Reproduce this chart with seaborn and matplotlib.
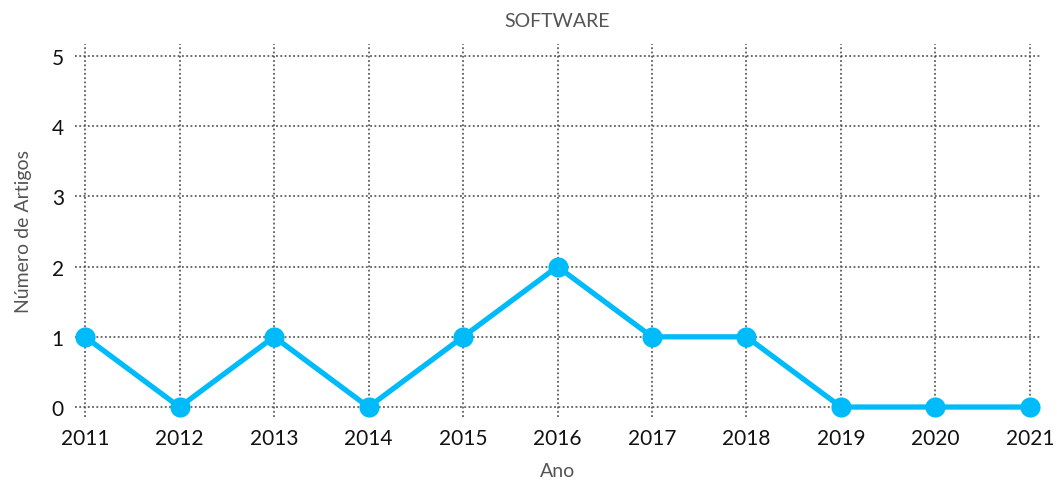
import matplotlib
matplotlib.use("Agg")
import matplotlib.pyplot as plt
import seaborn as sns
import pandas as pd

anos = [2011, 2012, 2013, 2014, 2015, 2016, 2017, 2018, 2019, 2020, 2021]
artigos = [1, 0, 1, 0, 1, 2, 1, 1, 0, 0, 0]
yticks = [0, 1, 2, 3, 4, 5]

sns.set_theme(style="white")
plt.rcParams['font.family'] = ['Lato', 'DejaVu Sans']

df = pd.DataFrame({"Ano": anos, "Artigos": artigos})

fig = plt.figure(figsize=(10.57, 4.85), dpi=100)
ax = fig.add_axes([75/1057, (485-418)/485, (1040-75)/1057, (418-45)/485])

sns.lineplot(data=df, x="Ano", y="Artigos", ax=ax, color="#00BBF9",
             linewidth=3.8, marker="o", markersize=14.5, markeredgewidth=0,
             clip_on=False, zorder=3)

ax.set_xlim(2010.894, 2021.106)
ax.set_ylim(-0.142, 5.171)
ax.set_xticks(anos)
ax.set_xticklabels([str(a) for a in anos])
ax.set_yticks(yticks)
ax.grid(True, linestyle=(0, (1.2, 1.6)), color="#444444", linewidth=1.1)
for s in ax.spines.values():
    s.set_visible(False)
ax.tick_params(axis="both", length=0, labelsize=15, colors="#111111")
ax.tick_params(axis="x", pad=8)
ax.tick_params(axis="y", pad=8)

ax.set_xlabel("Ano", fontsize=14, color="#555555", labelpad=10)
ax.set_ylabel("Número de Artigos", fontsize=14, color="#555555", labelpad=14)
ax.set_title("SOFTWARE", fontsize=14, color="#555555", pad=13)

fig.savefig("out.png", dpi=100)
